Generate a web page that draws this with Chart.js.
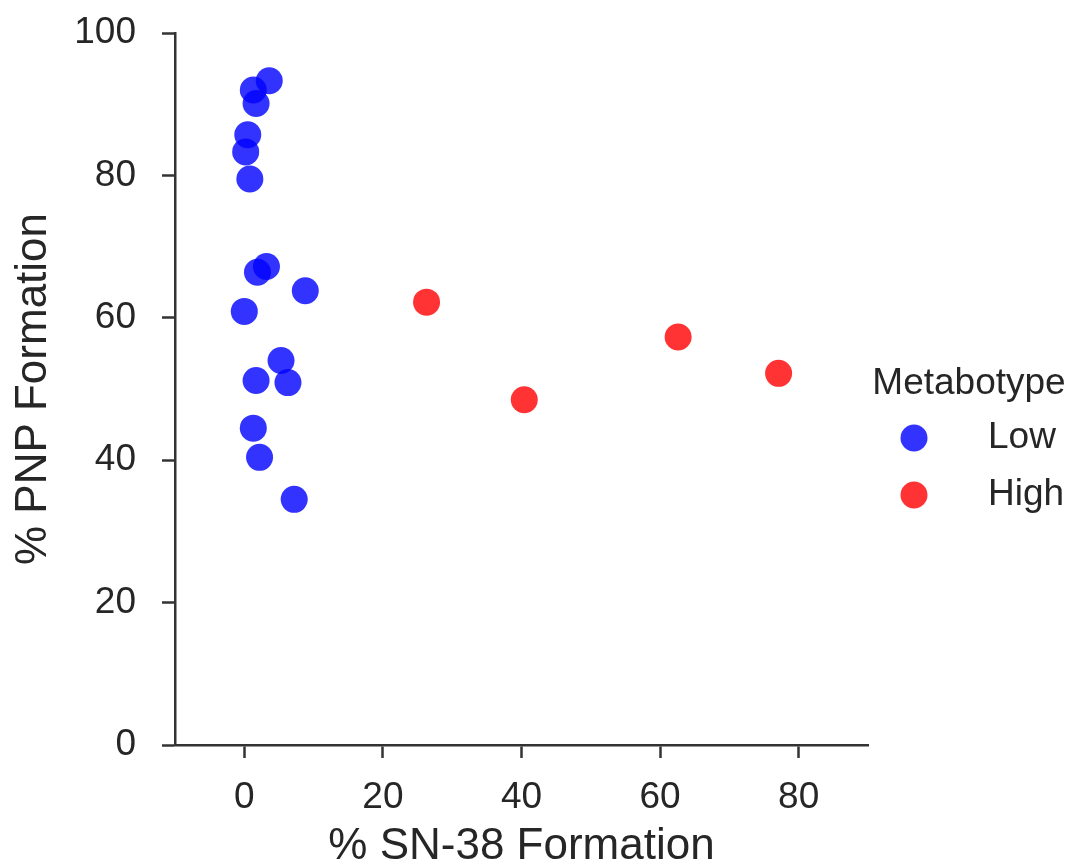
<!DOCTYPE html>
<html>
<head>
<meta charset="utf-8">
<script src="https://cdn.jsdelivr.net/npm/chart.js@4"></script>
<style>
  html, body { margin: 0; padding: 0; background: #fff; }
  #caja { width: 1073px; height: 868px; }
</style>
</head>
<body>
<div id="caja"><canvas id="grafica" width="1073" height="868"></canvas></div>
<script>
// Datos
const lowX = [3.6, 1.3, 1.7, 0.5, 0.2, 0.8, 3.2, 1.9, 8.8, 0.0, 5.3, 1.7, 6.3, 1.3, 2.2, 7.2];
const lowY = [93.3, 92.0, 90.1, 85.7, 83.3, 79.5, 67.2, 66.4, 63.8, 60.9, 54.0, 51.2, 50.9, 44.5, 40.4, 34.5];
const highX = [26.3, 40.4, 62.6, 77.1];
const highY = [62.2, 48.5, 57.3, 52.2];
const grupos = ['Low', 'High'];
const xTicks = [0, 20, 40, 60, 80];
const yTicks = [0, 20, 40, 60, 80, 100];

const colores = ['rgba(0,0,255,0.8)', 'rgba(255,0,0,0.8)'];
const gris = '#262626';
const fuente = '"Liberation Sans", Arial, sans-serif';

function puntos(xs, ys) {
    return xs.map((x, i) => ({ x: x, y: ys[i] }));
}

// leyenda dibujada a mano (matplotlib deja mucho hueco entre marcador y texto)
const leyenda = {
    id: 'leyendaMetabotype',
    afterDraw(chart) {
        const ctx = chart.ctx;
        ctx.save();
        ctx.fillStyle = gris;
        ctx.textBaseline = 'middle';
        ctx.textAlign = 'center';
        ctx.font = '37px ' + fuente;
        ctx.fillText('Metabotype', 969, 384);
        ctx.textAlign = 'left';
        grupos.forEach((g, i) => {
            const y = 438 + i * 57;
            ctx.beginPath();
            ctx.arc(914, y, 13.5, 0, Math.PI * 2);
            ctx.fillStyle = colores[i];
            ctx.fill();
            ctx.fillStyle = gris;
            ctx.font = '37px ' + fuente;
            ctx.fillText(g, 988, y);
        });
        ctx.restore();
    }
};

const ejeComun = {
    border: { display: true, color: '#333', width: 2.5 },
    grid: { drawOnChartArea: false, drawTicks: true, tickLength: 13, tickColor: '#333', tickWidth: 2.5 },
};

new Chart(document.getElementById('grafica'), {
    type: 'scatter',
    data: {
        datasets: [
            { label: grupos[0], data: puntos(lowX, lowY), backgroundColor: colores[0], borderWidth: 0, pointRadius: 13.5, pointHoverRadius: 13.5 },
            { label: grupos[1], data: puntos(highX, highY), backgroundColor: colores[1], borderWidth: 0, pointRadius: 13.5, pointHoverRadius: 13.5 }
        ]
    },
    options: {
        responsive: false,
        animation: false,
        layout: { padding: { top: 33, right: 205, left: 0, bottom: 0 } },
        plugins: { legend: { display: false }, tooltip: { enabled: false } },
        scales: {
            x: {
                ...ejeComun,
                min: -10, max: 90,
                afterBuildTicks: s => { s.ticks = xTicks.map(v => ({ value: v })); },
                afterFit: s => { s.height = 123; s.paddingLeft = 0; s.paddingRight = 0; },
                ticks: { color: gris, font: { family: fuente, size: 37 }, padding: 18 },
                title: { display: true, text: '% SN-38 Formation', color: gris, font: { family: fuente, size: 44, lineHeight: 1.1 }, padding: { top: 0, bottom: -3 } }
            },
            y: {
                ...ejeComun,
                min: 0, max: 100,
                afterBuildTicks: s => { s.ticks = yTicks.map(v => ({ value: v })); },
                afterFit: s => { s.width = 175; s.paddingTop = 0; s.paddingBottom = 0; },
                ticks: { color: gris, font: { family: fuente, size: 37 }, padding: 26 },
                title: { display: true, text: '% PNP Formation', color: gris, font: { family: fuente, size: 44, lineHeight: 1.1 }, padding: { top: 10, bottom: 0 } }
            }
        }
    },
    plugins: [leyenda]
});
</script>
</body>
</html>
